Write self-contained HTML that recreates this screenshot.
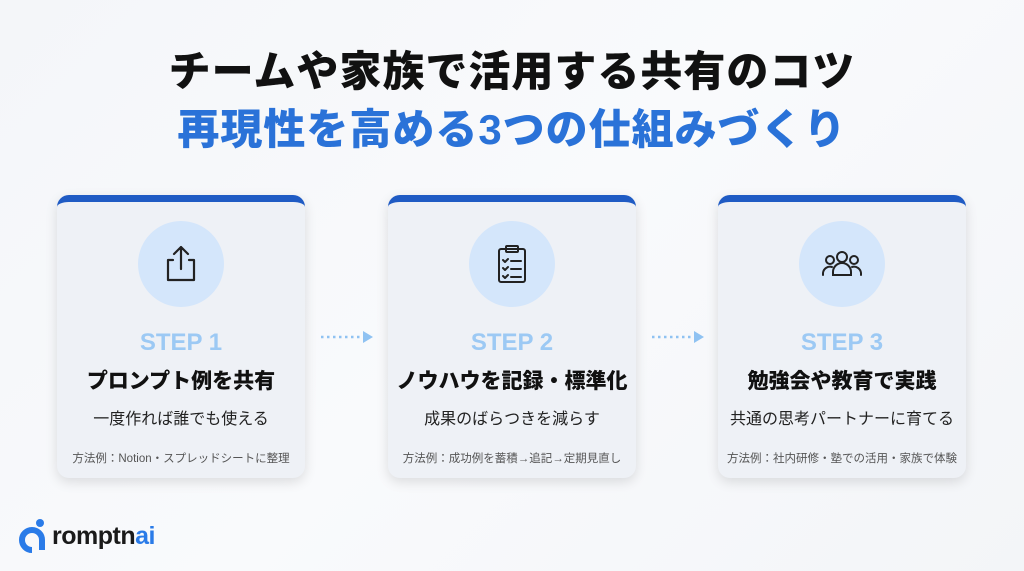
<!DOCTYPE html>
<html><head><meta charset="utf-8"><style>
body{margin:0;width:1024px;height:571px;overflow:hidden;background:linear-gradient(135deg,#f4f6f9,#f9fafc 50%,#f3f5f8);font-family:"Liberation Sans","Noto Sans CJK JP",sans-serif;position:relative}
.t{position:absolute;left:0;width:1024px;text-align:center;font-weight:900;font-size:42px;letter-spacing:1px;line-height:50px}
.card{position:absolute;top:195px;width:248px;height:283px;background:#eef1f6;border-radius:12px;box-shadow:0 4px 12px rgba(0,0,0,.12);border-top:7px solid #1f5bc4;box-sizing:border-box;text-align:center}
.circ{position:absolute;left:81px;top:19px;width:86px;height:86px;border-radius:50%;background:#d4e6fb}
.circ svg{position:absolute;left:21px;top:21px}
.step{position:absolute;top:127px;width:100%;font-size:24px;font-weight:bold;color:#9cc9f4}
.h{position:absolute;top:163px;width:100%;font-size:21px;font-weight:900;color:#111}
.s{position:absolute;top:203px;width:100%;font-size:16px;color:#222}
.m{position:absolute;top:248px;width:100%;font-size:11.5px;color:#555}
.arr{position:absolute;top:331px;width:56px;height:12px}
</style></head><body>
<div class="t" style="top:47px;color:#111">チームや家族で活用する共有のコツ</div>
<div class="t" style="top:105px;color:#2a72d8">再現性を高める3つの仕組みづくり</div>

<div class="card" style="left:57px"><div class="circ"><svg width="44" height="44" viewBox="0 0 44 44" fill="none" stroke="#222" stroke-width="2.2" stroke-linecap="round" stroke-linejoin="round"><path d="M22 5v22M15 12l7-7 7 7M14 18H9v20h26V18h-5"/></svg></div>
<div class="step">STEP 1</div><div class="h">プロンプト例を共有</div><div class="s">一度作れば誰でも使える</div><div class="m">方法例：Notion・スプレッドシートに整理</div></div>

<div class="card" style="left:388px"><div class="circ"><svg width="44" height="44" viewBox="0 0 44 44" fill="none" stroke="#222" stroke-width="2" stroke-linecap="round" stroke-linejoin="round"><rect x="9" y="7" width="26" height="33" rx="2"/><rect x="16" y="4" width="12" height="6" rx="1"/><path d="M13 18l2 2 3-3M21 19h10M13 26l2 2 3-3M21 27h10M13 34l2 2 3-3M21 35h10"/></svg></div>
<div class="step">STEP 2</div><div class="h">ノウハウを記録・標準化</div><div class="s">成果のばらつきを減らす</div><div class="m">方法例：成功例を蓄積→追記→定期見直し</div></div>

<div class="card" style="left:718px"><div class="circ"><svg width="44" height="44" viewBox="0 0 44 44" fill="none" stroke="#222" stroke-width="2" stroke-linecap="round"><circle cx="22" cy="15" r="5"/><circle cx="10" cy="18" r="4"/><circle cx="34" cy="18" r="4"/><path d="M13 33v-3a9 9 0 0 1 18 0v3zM3 33v-2a7 7 0 0 1 9-6M41 33v-2a7 7 0 0 0-9-6"/></svg></div>
<div class="step">STEP 3</div><div class="h">勉強会や教育で実践</div><div class="s">共通の思考パートナーに育てる</div><div class="m">方法例：社内研修・塾での活用・家族で体験</div></div>

<svg class="arr" style="left:319px"><path d="M2 6h40" stroke="#8fc2f2" stroke-width="2.5" stroke-dasharray="2.5 3.5"/><path d="M44 0l10 6-10 6z" fill="#8fc2f2"/></svg>
<svg class="arr" style="left:650px"><path d="M2 6h40" stroke="#8fc2f2" stroke-width="2.5" stroke-dasharray="2.5 3.5"/><path d="M44 0l10 6-10 6z" fill="#8fc2f2"/></svg>

<svg style="position:absolute;left:18px;top:518px" width="30" height="36"><circle cx="22" cy="5" r="4" fill="#2a7be8"/><path d="M14 32a10 10 0 1 1 10-10v10" fill="none" stroke="#2a7be8" stroke-width="6"/></svg>
<div style="position:absolute;left:52px;top:522px;font-size:25px;font-weight:bold;color:#1a1a1a;letter-spacing:-0.5px">romptn<span style="color:#2a7be8">ai</span></div>
</body></html>
